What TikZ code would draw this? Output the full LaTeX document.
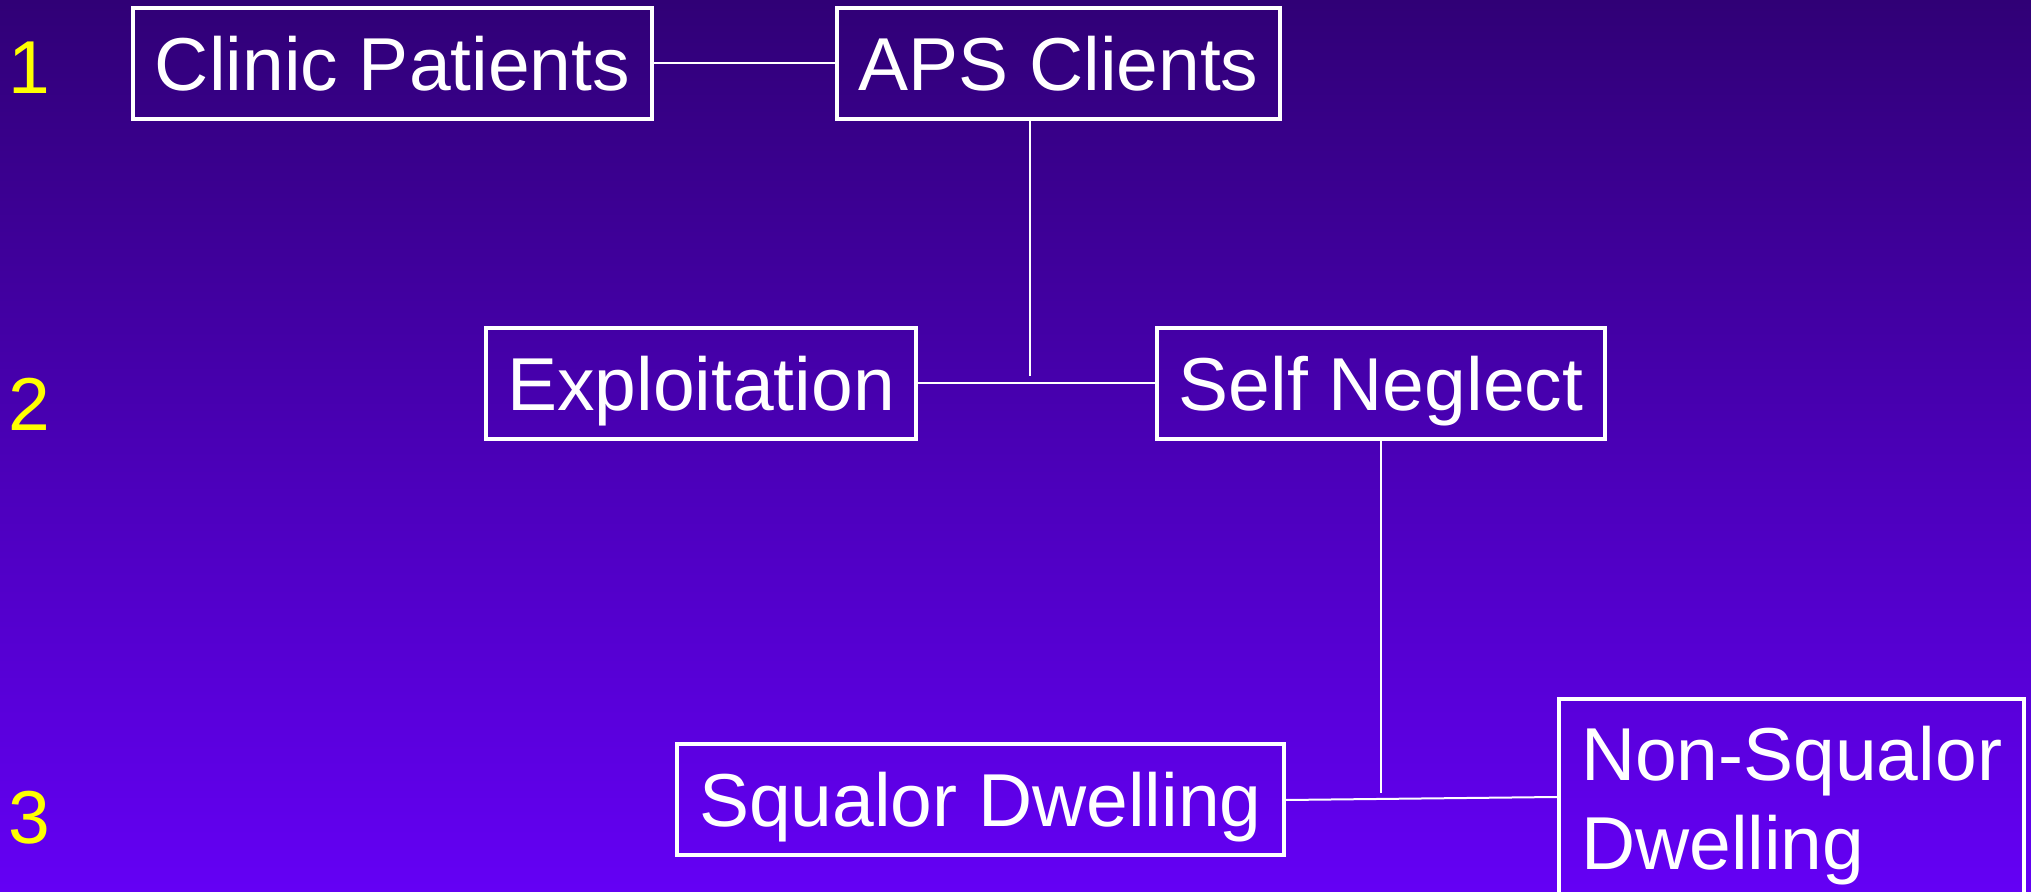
\documentclass[tikz,border=0pt]{standalone}
\usepackage{fontspec}
\setmainfont{Liberation Sans}
\definecolor{fondoarriba}{RGB}{48,0,118}
\definecolor{fondoabajo}{RGB}{100,0,245}
\definecolor{numero}{RGB}{255,255,0}
\tikzset{
	cajabase/.style={draw=white, line width=2pt, text=white},
	caja/.style={cajabase, minimum height=55.5pt, inner sep=0pt, text height=33.75pt, text depth=6.9pt},
	raya/.style={white, line width=1pt},
	nivel/.style={text=numero, inner sep=0pt, text height=33.75pt, text depth=6.9pt}
}
\begin{document}
\begin{tikzpicture}[x=0.5pt, y=-0.5pt, font=\fontsize{37.5}{44.5}\selectfont]
	
	% fondo
	\shade[top color=fondoarriba, bottom color=fondoabajo] (0,0) rectangle (2031,892);
	\useasboundingbox (0,0) rectangle (2031,892);
	
	% niveles
	\node[nivel] (n1) at (29,67) {1};
	\node[nivel] (n2) at (29,404) {2};
	\node[nivel] (n3) at (29,817) {3};
	
	% cajas
	\node[caja, minimum width=259.5pt] (clinic) at (392.5,63.5) {Clinic Patients};
	\node[caja, minimum width=221.5pt] (aps) at (1058.5,63.5) {APS Clients};
	\node[caja, minimum width=215pt] (expl) at (701,383.5) {Exploitation};
	\node[caja, minimum width=224pt] (self) at (1381,383.5) {Self Neglect};
	\node[caja, minimum width=303.5pt] (squalor) at (980.5,800) {Squalor Dwelling};
	\node[cajabase, anchor=north west, inner xsep=11pt, inner ysep=13.5pt,
		align=left] (nonsq) at (1557,697) {Non-Squalor\\Dwelling};
	
	% rayas
	\coordinate (apsfin) at (1030,376);
	\coordinate (selffin) at (1381,793);
	\draw[raya] (clinic.east) -- (aps.west);
	\draw[raya] (apsfin |- aps.south) -- (apsfin);
	\draw[raya] (expl.east) -- (self.west);
	\draw[raya] (self.south) -- (selffin);
	\draw[raya] (squalor.east) -- ([yshift=-50pt]nonsq.north west);
	
\end{tikzpicture}
\end{document}
